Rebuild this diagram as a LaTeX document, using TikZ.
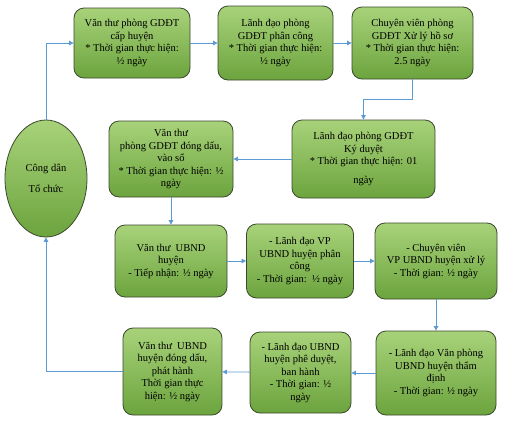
\documentclass[tikz,border=0pt]{standalone}
\usepackage{fontspec}
\setmainfont{Liberation Serif}
\usepackage{xcolor}
\usetikzlibrary{arrows.meta, shapes.geometric}

\definecolor{xanhtren}{RGB}{168,210,122}
\definecolor{xanhduoi}{RGB}{108,164,62}
\definecolor{vien}{RGB}{58,74,44}
\definecolor{muixanh}{RGB}{91,155,213}

\begin{document}
\begin{tikzpicture}[x=1pt, y=-1pt,
    buoc/.style={draw=vien, line width=0.8pt, rounded corners=10pt,
        top color=xanhtren, bottom color=xanhduoi, align=center,
        inner sep=0pt, font=\fontsize{10.5}{12.5}\selectfont},
    congdan/.style={ellipse, draw=vien, line width=0.8pt,
        top color=xanhtren, bottom color=xanhduoi, align=center,
        inner sep=0pt, font=\fontsize{10.5}{12.5}\selectfont},
    muiten/.style={draw=muixanh, line width=0.8pt,
        -{Triangle[length=4.5pt, width=4.5pt]}}]
    % Frame
    \useasboundingbox[fill=white] (0,0) rectangle (507,424);

    % Citizen
    \node[congdan, minimum width=82pt, minimum height=117pt] (cd) at (46,178.5)
        {Công dân\\[9pt]Tổ chức};

    % Education office
    \node[buoc, minimum width=116pt, minimum height=70pt] (b1) at (132,43)
        {Văn thư phòng GDĐT\\cấp huyện\\* Thời gian thực hiện:\\½ ngày};
    \node[buoc, minimum width=115pt, minimum height=74pt] (b2) at (275.5,43)
        {Lãnh đạo phòng\\GDĐT phân công\\* Thời gian thực hiện:\\½ ngày};
    \node[buoc, minimum width=121pt, minimum height=72pt] (b3) at (412.5,43)
        {Chuyên viên phòng\\GDĐT Xử lý hồ sơ\\* Thời gian thực hiện:\\2.5 ngày};
    \node[buoc, minimum width=143pt, minimum height=78pt] (b4) at (363.5,159)
        {Lãnh đạo phòng GDĐT\\Ký duyệt\\* Thời gian thực hiện: 01\\[6pt]ngày};
    \node[buoc, minimum width=124pt, minimum height=76pt] (b5) at (171,159)
        {Văn thư\\phòng GDĐT đóng dấu,\\vào sổ\\* Thời gian thực hiện: ½\\ngày};

    % District people's committee
    \node[buoc, minimum width=112pt, minimum height=72pt] (b6) at (171,261)
        {Văn thư\ \ UBND\\huyện\\- Tiếp nhận: ½ ngày};
    \node[buoc, minimum width=107pt, minimum height=74pt] (b7) at (300,261)
        {- Lãnh đạo VP\\UBND huyện phân\\công\\- Thời gian:\ \ ½ ngày};
    \node[buoc, minimum width=122pt, minimum height=76pt] (b8) at (436,261)
        {- Chuyên viên\\VP UBND huyện xử lý\\- Thời gian: ½ ngày};
    \node[buoc, minimum width=120pt, minimum height=84pt] (b9) at (436,373)
        {- Lãnh đạo Văn phòng\\UBND huyện thẩm\\định\\- Thời gian: ½ ngày};
    \node[buoc, minimum width=101pt, minimum height=81pt] (b10) at (300.5,372.5)
        {- Lãnh đạo UBND\\huyện phê duyệt,\\ban hành\\- Thời gian: ½\\ngày};
    \node[buoc, minimum width=99pt, minimum height=87pt] (b11) at (172.5,371.5)
        {Văn thư\ \ UBND\\huyện đóng dấu,\\phát hành\\Thời gian thực\\hiện: ½ ngày};

    % Flow
    \draw[muiten] (cd.north) |- (b1.west);
    \draw[muiten] (b1) -- (b2);
    \draw[muiten] (b2) -- (b3);
    \draw[muiten] (b3.south) -- ++(0,20) -| (b4.north);
    \draw[muiten] (b4) -- (b5);
    \draw[muiten] (b5) -- (b6);
    \draw[muiten] (b6) -- (b7);
    \draw[muiten] (b7) -- (b8);
    \draw[muiten] (b8) -- (b9);
    \draw[muiten] (b9.west) -- (b10.east |- b9.west);
    \draw[muiten] (b10) -- (b11);
    \draw[muiten] (b11.west) -| (cd.south);
\end{tikzpicture}
\end{document}
